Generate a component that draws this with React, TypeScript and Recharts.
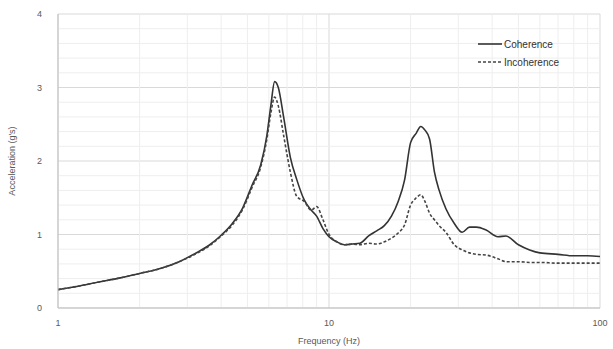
import {
  LineChart,
  Line,
  XAxis,
  YAxis,
  CartesianGrid,
  ReferenceLine,
} from "recharts";

const FREQ = [
  1, 1.2, 1.4, 1.7, 2, 2.4, 2.8, 3.2, 3.6, 4, 4.4, 4.8, 5.2, 5.6, 5.9, 6.1, 6.3,
  6.5, 6.8, 7.2, 7.6, 8.1, 8.6, 9, 9.5, 10, 10.7, 11.4, 12.2, 13, 14, 15, 16, 17,
  18, 19, 20, 21, 21.8, 22.6, 23.5, 24.5, 25.5, 27, 29, 31, 33, 35, 38, 42, 45,
  50, 55, 60, 70, 80, 90, 100,
];

const COHERENCE = [
  0.25, 0.3, 0.35, 0.41, 0.47, 0.54, 0.63, 0.74, 0.85, 0.99, 1.15, 1.36, 1.67,
  1.95, 2.35, 2.75, 3.08, 3.0, 2.6, 2.05, 1.75, 1.47, 1.33, 1.25, 1.08, 0.97,
  0.9, 0.86, 0.87, 0.88, 0.98, 1.05, 1.12, 1.25, 1.45, 1.74, 2.25, 2.38, 2.47,
  2.42, 2.3, 1.85, 1.6, 1.35, 1.15, 1.03, 1.1, 1.1, 1.06, 0.97, 0.98, 0.86,
  0.79, 0.75, 0.73, 0.71, 0.71, 0.7,
];

const INCOHERENCE = [
  0.25, 0.3, 0.35, 0.41, 0.47, 0.54, 0.63, 0.73, 0.84, 0.98, 1.13, 1.34, 1.64,
  1.92, 2.3, 2.65, 2.87, 2.75, 2.35, 1.85, 1.52, 1.45, 1.33, 1.38, 1.2, 1.0,
  0.9, 0.86, 0.87, 0.86, 0.88, 0.87, 0.9, 0.95, 1.02, 1.13, 1.4, 1.5, 1.54,
  1.45, 1.29, 1.2, 1.12, 1.03, 0.86, 0.79, 0.75, 0.73, 0.72, 0.67, 0.63, 0.63,
  0.62, 0.62, 0.61, 0.61, 0.61, 0.61,
];

const X_TICKS = [1, 10, 100];
const Y_TICKS = [0, 1, 2, 3, 4];
const X_MINOR = [2, 3, 4, 5, 6, 7, 8, 9, 20, 30, 40, 50, 60, 70, 80, 90];
const Y_MINOR = [
  0.2, 0.4, 0.6, 0.8, 1.2, 1.4, 1.6, 1.8, 2.2, 2.4, 2.6, 2.8, 3.2, 3.4, 3.6,
  3.8,
];

const SERIES = [
  { key: "coherence", name: "Coherence", color: "#333333", dash: undefined },
  { key: "incoherence", name: "Incoherence", color: "#444444", dash: "3 2" },
];

const data = FREQ.map((f, i) => ({
  f,
  coherence: COHERENCE[i],
  incoherence: INCOHERENCE[i],
}));

const FONT = "'Liberation Sans', Arial, sans-serif";

function ChartLegend() {
  return (
    <div
      style={{
        position: "absolute",
        left: 478,
        top: 35,
        fontFamily: FONT,
        fontSize: 10,
        color: "#333",
      }}
    >
      {SERIES.map((s) => (
        <div
          key={s.key}
          style={{ display: "flex", alignItems: "center", height: 18 }}
        >
          <svg width={24} height={6} style={{ marginRight: 2 }}>
            <line
              x1={0}
              y1={3}
              x2={24}
              y2={3}
              stroke={s.color}
              strokeWidth={1.6}
              strokeDasharray={s.dash}
            />
          </svg>
          <span>{s.name}</span>
        </div>
      ))}
    </div>
  );
}

export default function App() {
  return (
    <div
      style={{
        position: "absolute",
        left: 0,
        top: 0,
        width: 613,
        height: 349,
        background: "#fff",
      }}
    >
      <LineChart
        width={613}
        height={349}
        data={data}
        margin={{ top: 14, right: 13, bottom: 0, left: 0 }}
      >
        <CartesianGrid stroke="#d9d9d9" strokeWidth={1} />
        {X_MINOR.map((v) => (
          <ReferenceLine key={"x" + v} x={v} stroke="#eeeeee" />
        ))}
        {Y_MINOR.map((v) => (
          <ReferenceLine key={"y" + v} y={v} stroke="#eeeeee" />
        ))}
        <XAxis
          dataKey="f"
          type="number"
          scale="log"
          domain={[1, 100]}
          ticks={X_TICKS}
          allowDataOverflow
          height={41}
          tickLine={false}
          tickMargin={6}
          axisLine={{ stroke: "#bfbfbf" }}
          tick={{ fontSize: 9, fill: "#595959", fontFamily: FONT }}
          label={{
            value: "Frequency (Hz)",
            position: "insideBottom",
            offset: 5,
            fontSize: 9,
            fill: "#595959",
            fontFamily: FONT,
          }}
        />
        <YAxis
          type="number"
          domain={[0, 4]}
          ticks={Y_TICKS}
          width={58}
          tickLine={false}
          tickMargin={10}
          axisLine={{ stroke: "#bfbfbf" }}
          tick={{ fontSize: 9, fill: "#595959", fontFamily: FONT }}
          label={{
            value: "Acceleration (g's)",
            angle: -90,
            position: "insideLeft",
            offset: 12,
            style: { textAnchor: "middle" },
            fontSize: 9,
            fill: "#595959",
            fontFamily: FONT,
          }}
        />
        {SERIES.map((s) => (
          <Line
            key={s.key}
            dataKey={s.key}
            name={s.name}
            type="monotone"
            stroke={s.color}
            strokeWidth={1.6}
            strokeDasharray={s.dash}
            dot={false}
            isAnimationActive={false}
          />
        ))}
      </LineChart>
      <ChartLegend />
    </div>
  );
}
